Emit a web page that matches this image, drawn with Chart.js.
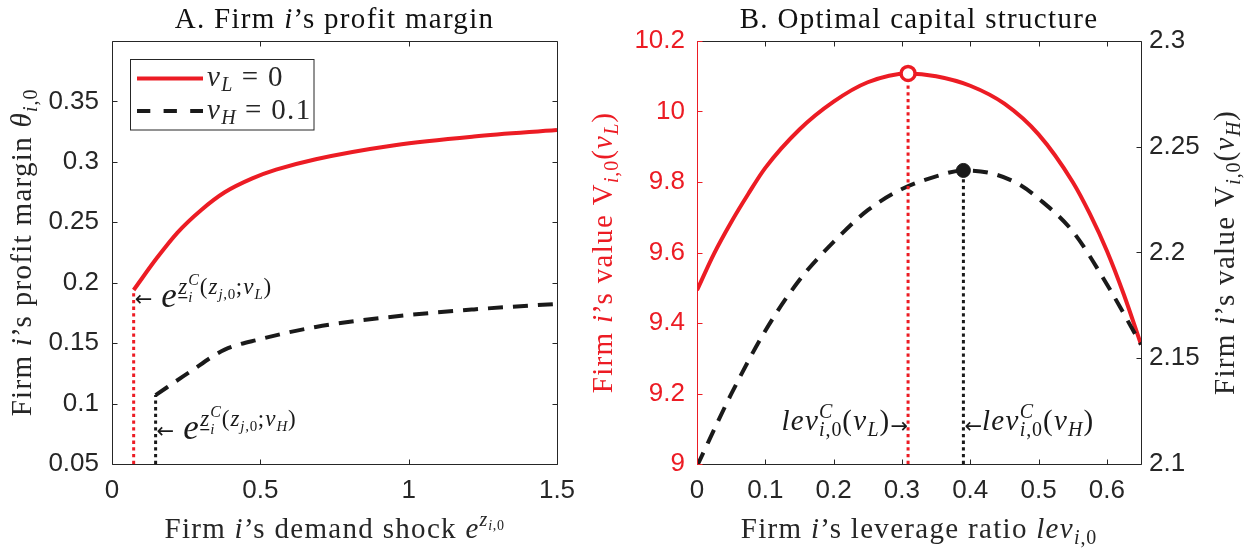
<!DOCTYPE html>
<html>
<head>
<meta charset="utf-8">
<title>Profit margin and optimal capital structure</title>
<script src="https://cdn.jsdelivr.net/npm/chart.js@4.4.1/dist/chart.umd.min.js"></script>
<style>
  html, body { margin: 0; padding: 0; background: #fff; }
  #wrap { position: relative; width: 1254px; height: 549px; }
  #wrap canvas { position: absolute; left: 0; top: 0; }
</style>
</head>
<body>
<div id="wrap">
  <canvas id="margin" width="1254" height="549"></canvas>
  <canvas id="capital" width="1254" height="549"></canvas>
</div>
<script>
/* ---------- Panel A: profit margin against the demand shock ---------- */
const shockL  = [0.073, 0.153, 0.22, 0.30, 0.38, 0.473, 0.553, 0.687, 0.953, 1.22, 1.5];
const marginL = [0.194, 0.221, 0.2413, 0.260, 0.2748, 0.2863, 0.2935, 0.3022, 0.3138, 0.321, 0.3263];
const shockH  = [0.147, 0.26, 0.38, 0.50, 0.687, 0.953, 1.22, 1.5];
const marginH = [0.107, 0.1258, 0.1446, 0.1533, 0.1634, 0.1721, 0.1779, 0.1825];
const shockTicks  = [0, 0.5, 1, 1.5];
const marginTicks = [0.05, 0.1, 0.15, 0.2, 0.25, 0.3, 0.35];

/* ---------- Panel B: firm value against leverage ---------- */
const levL   = [0, 0.025, 0.05, 0.075, 0.1, 0.15, 0.2, 0.25, 0.309, 0.35, 0.4, 0.45, 0.5, 0.55, 0.575, 0.6, 0.625, 0.65];
const valueL = [9.493, 9.597, 9.686, 9.766, 9.84, 9.949, 10.028, 10.083, 10.108, 10.1, 10.073, 10.022, 9.935, 9.80, 9.71, 9.605, 9.48, 9.339];
const levH   = [0, 0.05, 0.1, 0.15, 0.2, 0.25, 0.3, 0.35, 0.39, 0.43, 0.47, 0.5, 0.55, 0.6, 0.65];
const valueH = [2.099, 2.133, 2.163, 2.187, 2.205, 2.220, 2.230, 2.236, 2.2388, 2.2375, 2.2325, 2.2255, 2.210, 2.185, 2.1565];
const levTicks    = [0, 0.1, 0.2, 0.3, 0.4, 0.5, 0.6];
const valueLTicks = [9, 9.2, 9.4, 9.6, 9.8, 10, 10.2];
const valueHTicks = [2.1, 2.15, 2.2, 2.25, 2.3];

const INK = '#262626';
const RED = '#ec1c24';
const BLACK = '#1a1a1a';
const SANS = '"Liberation Sans", Arial, sans-serif';
const SERIF = '"Liberation Serif", "Times New Roman", serif';
const ARROWS = '"DejaVu Sans", sans-serif';

Chart.defaults.font.family = SANS;
Chart.defaults.color = INK;

const pts = (xs, ys) => xs.map((x, i) => ({ x, y: ys[i] }));
const argmax = arr => arr.reduce((b, v, i) => (v > arr[b] ? i : b), 0);

// rich text pieces: roman / italic, size, baseline shift
const rm = (t, s = 29, dy = 0, o = {}) => Object.assign({ t, s, dy, it: false }, o);
const it = (t, s = 29, dy = 0, o = {}) => Object.assign({ t, s, dy, it: true }, o);
const arrow = (t, dy) => ({ t, s: 21, dy, it: false, fam: ARROWS, tight: true });
const gap = g => ({ gap: g });

function fontOf(p) { return (p.it ? 'italic ' : '') + p.s + 'px ' + (p.fam || SERIF); }
function spacing(p) { return (p.tight ? 0 : p.s * 0.045) + 'px'; }

function drawRich(ctx, parts, x, y, align, color) {
  ctx.save();
  ctx.fillStyle = color || INK;
  ctx.textAlign = 'left';
  ctx.textBaseline = 'alphabetic';
  const adv = parts.map(p => {
    if (p.gap) return p.gap;
    ctx.font = fontOf(p);
    ctx.letterSpacing = spacing(p);
    return p.keep ? 0 : ctx.measureText(p.t).width;
  });
  const total = adv.reduce((a, b) => a + b, 0);
  let cx = align === 'center' ? x - total / 2 : align === 'right' ? x - total : x;
  parts.forEach((p, i) => {
    if (!p.gap) {
      ctx.font = fontOf(p);
      ctx.letterSpacing = spacing(p);
      ctx.fillText(p.t, cx, y + p.dy);
      if (p.ul) ctx.fillRect(cx, y + p.dy + 3, ctx.measureText(p.t).width - p.s * 0.045, 1.3);
    }
    cx += adv[i];
  });
  ctx.restore();
}

function drawRotated(ctx, parts, x, y, color) {
  ctx.save();
  ctx.translate(x, y);
  ctx.rotate(-Math.PI / 2);
  drawRich(ctx, parts, 0, 0, 'center', color);
  ctx.restore();
}

function seg(ctx, x1, y1, x2, y2) {
  ctx.beginPath();
  ctx.moveTo(x1, y1);
  ctx.lineTo(x2, y2);
  ctx.stroke();
}

const snap = v => Math.round(v) + 0.5;

// box around the plot with inward ticks on every side
const frame = {
  id: 'frame',
  afterDatasetsDraw(chart, args, o) {
    const { ctx, chartArea: a, scales } = chart;
    const L = 5;
    const l = snap(a.left), r = snap(a.right), t = snap(a.top), b = snap(a.bottom);
    ctx.save();
    ctx.lineWidth = 1;
    ctx.strokeStyle = INK;
    seg(ctx, l, b, r, b);
    seg(ctx, l, t, r, t);
    scales.x.ticks.forEach(tk => {
      const px = snap(scales.x.getPixelForValue(tk.value));
      seg(ctx, px, b, px, b - L);
      seg(ctx, px, t, px, t + L);
    });
    o.sides.forEach(sd => {
      const sc = scales[sd.id];
      ctx.strokeStyle = sd.color;
      sd.at.forEach(edge => {
        const ex = edge === 'left' ? l : r;
        const dir = edge === 'left' ? 1 : -1;
        seg(ctx, ex, t, ex, b);
        sc.ticks.forEach(tk => {
          const py = snap(sc.getPixelForValue(tk.value));
          seg(ctx, ex, py, ex + dir * L, py);
        });
      });
    });
    ctx.restore();
  }
};

const tickFont = { family: SANS, size: 26 };
const fixedTicks = list => s => { s.ticks = list.map(value => ({ value })); };
const plainAxis = {
  grid: { display: false, drawTicks: false },
  border: { display: false }
};

/* ---------- Panel A ---------- */
const textA = {
  id: 'textA',
  afterDraw(chart) {
    const ctx = chart.ctx;
    const a = chart.chartArea;
    const cx = (a.left + a.right) / 2;
    drawRich(ctx, [rm('A. Firm '), it('i'), rm('’s profit margin')], cx, 28, 'center', '#111');
    drawRich(ctx, [rm('Firm '), it('i'), rm('’s demand shock '), it('e'), it('z', 20, -12), it('i', 14, -8), rm(',0', 14, -8)], cx, 538, 'center');
    drawRotated(ctx, [rm('Firm '), it('i'), rm('’s profit margin '), it('θ'), it('i', 20, 6), rm(',0', 20, 6)], 31, (a.top + a.bottom) / 2);

    // legend
    ctx.save();
    ctx.fillStyle = '#fff';
    ctx.fillRect(131, 59.5, 183, 70.5);
    ctx.strokeStyle = INK;
    ctx.lineWidth = 1;
    ctx.strokeRect(130.5, 59.5, 183.5, 70.5);
    ctx.lineWidth = 4;
    ctx.strokeStyle = RED;
    seg(ctx, 137, 78.5, 203, 78.5);
    ctx.strokeStyle = BLACK;
    ctx.setLineDash([13.3, 13.3]);
    seg(ctx, 137, 111, 203, 111);
    ctx.restore();
    drawRich(ctx, [it('ν'), it('L', 20, 5), rm(' = 0')], 207, 86, 'left');
    drawRich(ctx, [it('ν'), it('H', 20, 5), rm(' = 0.1')], 207, 119, 'left');

    // cut-off labels
    const xs = chart.scales.x;
    const cutL = xs.getPixelForValue(shockL[0]);
    const cutH = xs.getPixelForValue(shockH[0]);
    const cutLabel = sub => [
      arrow('←', -1), gap(9), it('e', 35),
      it('z', 23, -12.5, { ul: true }), it('i', 15, -5, { keep: true }), it('C', 16, -22),
      rm('(', 23, -12.5), it('z', 23, -12.5), it('j', 15, -7.5), rm(',0', 15, -7.5),
      rm(';', 23, -12.5), it('ν', 23, -12.5), it(sub, 15, -8), rm(')', 23, -12.5)
    ];
    drawRich(ctx, cutLabel('L'), cutL + 1, 306.5, 'left', BLACK);
    drawRich(ctx, cutLabel('H'), cutH + 1, 438.5, 'left', BLACK);
  }
};

new Chart(document.getElementById('margin'), {
  type: 'line',
  data: {
    datasets: [
      { data: pts(shockL, marginL), borderColor: RED, borderWidth: 4, pointRadius: 0,
        cubicInterpolationMode: 'monotone', order: 1 },
      { data: pts(shockH, marginH), borderColor: BLACK, borderWidth: 4, borderDash: [15, 10],
        pointRadius: 0, cubicInterpolationMode: 'monotone', order: 2 },
      { data: pts([shockL[0], shockL[0]], [marginTicks[0], marginL[0]]), borderColor: RED,
        borderWidth: 3, borderDash: [3.3, 3.4], pointRadius: 0, order: 3 },
      { data: pts([shockH[0], shockH[0]], [marginTicks[0], marginH[0]]), borderColor: BLACK,
        borderWidth: 3, borderDash: [3.3, 3.4], pointRadius: 0, order: 3 }
    ]
  },
  options: {
    responsive: false,
    animation: false,
    events: [],
    layout: { padding: { top: 41, right: 697, left: 0, bottom: 0 } },
    plugins: {
      legend: { display: false },
      tooltip: { enabled: false },
      frame: { sides: [{ id: 'y', color: INK, at: ['left', 'right'] }] }
    },
    scales: {
      x: Object.assign({
        type: 'linear', min: 0, max: 1.5,
        afterBuildTicks: fixedTicks(shockTicks),
        afterFit: s => { s.height = 85; },
        ticks: { font: tickFont, color: INK, padding: 11, maxRotation: 0, autoSkip: false, callback: v => String(v) }
      }, plainAxis),
      y: Object.assign({
        type: 'linear', min: 0.05, max: 0.4,
        afterBuildTicks: fixedTicks(marginTicks),
        afterFit: s => { s.width = 112; },
        ticks: { font: tickFont, color: INK, padding: 13, callback: v => String(v) }
      }, plainAxis)
    }
  },
  plugins: [frame, textA]
});

/* ---------- Panel B ---------- */
const iL = argmax(valueL);
const iH = argmax(valueH);

const textB = {
  id: 'textB',
  afterDraw(chart) {
    const ctx = chart.ctx;
    const a = chart.chartArea;
    const cx = (a.left + a.right) / 2;
    const cy = (a.top + a.bottom) / 2;
    drawRich(ctx, [rm('B. Optimal capital structure')], cx, 28, 'center', '#111');
    drawRich(ctx, [rm('Firm '), it('i'), rm('’s leverage ratio '), it('lev'), it('i', 20, 6), rm(',0', 20, 6)], cx, 538, 'center');
    drawRotated(ctx, [rm('Firm '), it('i'), rm('’s value '), rm('V'), it('i', 20, 6), rm(',0', 20, 6),
      rm('('), it('ν'), it('L', 20, 6), rm(')')], 612, cy, RED);
    drawRotated(ctx, [rm('Firm '), it('i'), rm('’s value '), rm('V'), it('i', 20, 6), rm(',0', 20, 6),
      rm('('), it('ν'), it('H', 20, 6), rm(')')], 1234, cy, INK);

    const xs = chart.scales.x;
    const starL = xs.getPixelForValue(levL[iL]);
    const starH = xs.getPixelForValue(levH[iH]);
    const levLabel = sub => [
      it('lev'), it('C', 20, -12, { keep: true }), it('i', 20, 6), rm(',0', 20, 6),
      rm('('), it('ν'), it(sub, 20, 6), rm(')')
    ];
    drawRich(ctx, levLabel('L').concat([arrow('→', 3)]), starL, 430, 'right', BLACK);
    drawRich(ctx, [arrow('←', 3)].concat(levLabel('H')), starH + 1, 430, 'left', BLACK);
  }
};

new Chart(document.getElementById('capital'), {
  type: 'line',
  data: {
    datasets: [
      { data: pts(levL, valueL), yAxisID: 'yL', borderColor: RED, borderWidth: 4, pointRadius: 0,
        cubicInterpolationMode: 'monotone', order: 3 },
      { data: pts(levH, valueH), yAxisID: 'yR', borderColor: BLACK, borderWidth: 4, borderDash: [15, 10],
        pointRadius: 0, cubicInterpolationMode: 'monotone', order: 2 },
      { data: pts([levL[iL], levL[iL]], [valueLTicks[0], valueL[iL]]), yAxisID: 'yL', borderColor: RED,
        borderWidth: 3, borderDash: [3.3, 3.4], pointRadius: 0, order: 1 },
      { data: pts([levH[iH], levH[iH]], [valueHTicks[0], valueH[iH]]), yAxisID: 'yR', borderColor: BLACK,
        borderWidth: 3, borderDash: [3.3, 3.4], pointRadius: 0, order: 1 },
      { data: pts([levL[iL]], [valueL[iL]]), yAxisID: 'yL', showLine: false, pointRadius: 7,
        pointBorderWidth: 3.5, pointBorderColor: RED, pointBackgroundColor: '#fff', order: 0 },
      { data: pts([levH[iH]], [valueH[iH]]), yAxisID: 'yR', showLine: false, pointRadius: 7,
        pointBorderWidth: 1, pointBorderColor: BLACK, pointBackgroundColor: BLACK, order: 0 }
    ]
  },
  options: {
    responsive: false,
    animation: false,
    events: [],
    layout: { padding: { top: 41, right: 0, left: 0, bottom: 0 } },
    plugins: {
      legend: { display: false },
      tooltip: { enabled: false },
      frame: { sides: [{ id: 'yL', color: RED, at: ['left'] }, { id: 'yR', color: INK, at: ['right'] }] }
    },
    scales: {
      x: Object.assign({
        type: 'linear', min: 0, max: 0.65,
        afterBuildTicks: fixedTicks(levTicks),
        afterFit: s => { s.height = 85; },
        ticks: { font: tickFont, color: INK, padding: 11, maxRotation: 0, autoSkip: false, callback: v => String(v) }
      }, plainAxis),
      yL: Object.assign({
        type: 'linear', position: 'left', min: 9, max: 10.2,
        afterBuildTicks: fixedTicks(valueLTicks),
        afterFit: s => { s.width = 697; },
        ticks: { font: tickFont, color: RED, padding: 12, callback: v => String(v) }
      }, plainAxis),
      yR: Object.assign({
        type: 'linear', position: 'right', min: 2.1, max: 2.3,
        afterBuildTicks: fixedTicks(valueHTicks),
        afterFit: s => { s.width = 113; },
        ticks: { font: tickFont, color: INK, padding: 8, callback: v => String(v) }
      }, plainAxis)
    }
  },
  plugins: [frame, textB]
});
</script>
</body>
</html>
